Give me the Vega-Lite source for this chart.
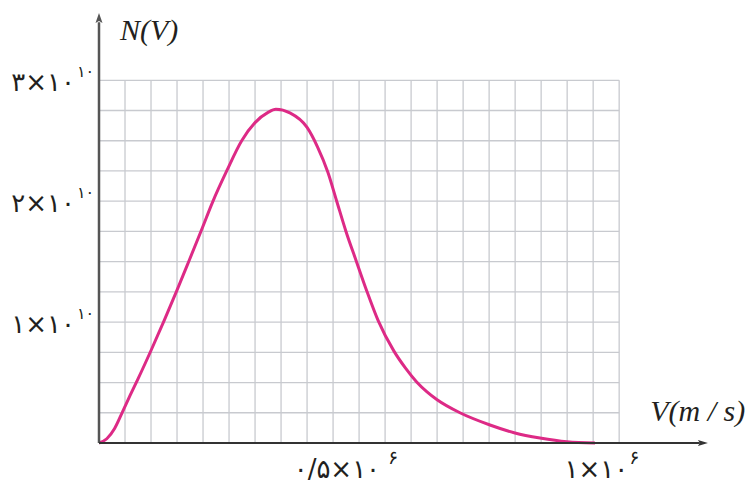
{
  "$schema": "https://vega.github.io/schema/vega-lite/v6.json",
  "width": 606,
  "height": 428,
  "autosize": {"type": "none"},
  "padding": {"left": 99, "top": 15, "right": 43, "bottom": 40},
  "background": "white",
  "config": {"view": {"stroke": null}},
  "datasets": {
    "curve": [
      {"V": 0, "N": 0},
      {"V": 15000, "N": 350000000},
      {"V": 30000, "N": 1200000000},
      {"V": 45000, "N": 2550000000},
      {"V": 60000, "N": 3950000000},
      {"V": 75000, "N": 5300000000},
      {"V": 100000, "N": 7650000000},
      {"V": 125000, "N": 10100000000},
      {"V": 150000, "N": 12650000000},
      {"V": 171000, "N": 14850000000},
      {"V": 195500, "N": 17450000000},
      {"V": 218600, "N": 19950000000},
      {"V": 245500, "N": 22500000000},
      {"V": 274300, "N": 25000000000},
      {"V": 300000, "N": 26500000000},
      {"V": 325000, "N": 27350000000},
      {"V": 340000, "N": 27600000000},
      {"V": 367000, "N": 27300000000},
      {"V": 400000, "N": 26100000000},
      {"V": 420000, "N": 24500000000},
      {"V": 440000, "N": 22400000000},
      {"V": 457000, "N": 20000000000},
      {"V": 474800, "N": 17500000000},
      {"V": 495000, "N": 15000000000},
      {"V": 514600, "N": 12600000000},
      {"V": 536900, "N": 10100000000},
      {"V": 567000, "N": 7600000000},
      {"V": 590000, "N": 6150000000},
      {"V": 610700, "N": 5050000000},
      {"V": 630000, "N": 4250000000},
      {"V": 650000, "N": 3580000000},
      {"V": 693900, "N": 2500000000},
      {"V": 751600, "N": 1490000000},
      {"V": 799700, "N": 830000000},
      {"V": 847700, "N": 410000000},
      {"V": 899600, "N": 100000000},
      {"V": 953600, "N": 0}
    ],
    "vgrid": [
      {"V": 50000}, {"V": 100000}, {"V": 150000}, {"V": 200000}, {"V": 250000},
      {"V": 300000}, {"V": 350000}, {"V": 400000}, {"V": 450000}, {"V": 500000},
      {"V": 550000}, {"V": 600000}, {"V": 650000}, {"V": 700000}, {"V": 750000},
      {"V": 800000}, {"V": 850000}, {"V": 900000}, {"V": 950000}, {"V": 1000000}
    ],
    "hgrid": [
      {"N": 2500000000}, {"N": 5000000000}, {"N": 7500000000}, {"N": 10000000000},
      {"N": 12500000000}, {"N": 15000000000}, {"N": 17500000000}, {"N": 20000000000},
      {"N": 22500000000}, {"N": 25000000000}, {"N": 27500000000}, {"N": 30000000000}
    ],
    "ylab": [
      {"N": 10000000000, "main": "۱×۱۰", "sup": "۱۰"},
      {"N": 20000000000, "main": "۲×۱۰", "sup": "۱۰"},
      {"N": 30000000000, "main": "۳×۱۰", "sup": "۱۰"}
    ]
  },
  "layer": [
    {
      "data": {"name": "vgrid"},
      "mark": {"type": "rule", "stroke": "#c8cacf", "strokeWidth": 1.3},
      "encoding": {
        "x": {"field": "V", "type": "quantitative", "scale": {"domain": [0, 1165000], "nice": false, "zero": false}, "axis": null},
        "y": {"datum": 0, "type": "quantitative", "scale": {"domain": [0, 35400000000], "nice": false}, "axis": null},
        "y2": {"datum": 30000000000}
      }
    },
    {
      "data": {"name": "hgrid"},
      "mark": {"type": "rule", "stroke": "#c8cacf", "strokeWidth": 1.3},
      "encoding": {
        "y": {"field": "N", "type": "quantitative"},
        "x": {"datum": 0, "type": "quantitative"},
        "x2": {"datum": 1000000}
      }
    },
    {
      "data": {"name": "curve"},
      "mark": {"type": "line", "stroke": "#dd2a86", "strokeWidth": 3, "interpolate": "monotone"},
      "encoding": {
        "x": {"field": "V", "type": "quantitative"},
        "y": {"field": "N", "type": "quantitative"}
      }
    },
    {
      "data": {"values": [{}]},
      "mark": {"type": "rule", "stroke": "#555555", "strokeWidth": 2.5},
      "encoding": {
        "x": {"datum": 0, "type": "quantitative"},
        "y": {"datum": 0, "type": "quantitative"},
        "y2": {"datum": 34800000000}
      }
    },
    {
      "data": {"values": [{}]},
      "mark": {"type": "rule", "stroke": "#333333", "strokeWidth": 1.8},
      "encoding": {
        "y": {"datum": 0, "type": "quantitative"},
        "x": {"datum": 0, "type": "quantitative"},
        "x2": {"datum": 1155000}
      }
    },
    {
      "data": {"values": [{}]},
      "mark": {"type": "point", "filled": true, "fill": "#555555", "strokeWidth": 0, "opacity": 1, "size": 100, "shape": "M0,-1L0.7,1L0,0.6L-0.7,1Z"},
      "encoding": {
        "x": {"datum": 0, "type": "quantitative"},
        "y": {"datum": 35150000000, "type": "quantitative"}
      }
    },
    {
      "data": {"values": [{}]},
      "mark": {"type": "point", "filled": true, "fill": "#333333", "strokeWidth": 0, "opacity": 1, "size": 100, "shape": "M1,0L-1,0.6L-0.6,0L-1,-0.6Z"},
      "encoding": {
        "x": {"datum": 1161000, "type": "quantitative"},
        "y": {"datum": 0, "type": "quantitative"}
      }
    },
    {
      "data": {"name": "ylab"},
      "mark": {"type": "text", "font": "DejaVu Sans", "fontSize": 26, "align": "right", "baseline": "middle", "dx": -24, "dy": 3, "fill": "#231f20"},
      "encoding": {
        "x": {"datum": 0, "type": "quantitative"},
        "y": {"field": "N", "type": "quantitative"},
        "text": {"field": "main"}
      }
    },
    {
      "data": {"name": "ylab"},
      "mark": {"type": "text", "font": "DejaVu Sans", "fontSize": 16, "align": "left", "baseline": "middle", "dx": -22, "dy": -8, "fill": "#231f20"},
      "encoding": {
        "x": {"datum": 0, "type": "quantitative"},
        "y": {"field": "N", "type": "quantitative"},
        "text": {"field": "sup"}
      }
    },
    {
      "data": {"values": [{"V": 500000, "main": "۰/۵×۱۰"}]},
      "mark": {"type": "text", "font": "DejaVu Sans", "fontSize": 26, "align": "right", "baseline": "bottom", "dx": 21, "dy": 40, "fill": "#231f20"},
      "encoding": {
        "x": {"field": "V", "type": "quantitative"},
        "y": {"datum": 0, "type": "quantitative"},
        "text": {"field": "main"}
      }
    },
    {
      "data": {"values": [{"V": 500000, "sup": "۶"}]},
      "mark": {"type": "text", "font": "DejaVu Sans", "fontSize": 19, "align": "left", "baseline": "middle", "dx": 29, "dy": 15, "fill": "#231f20"},
      "encoding": {
        "x": {"field": "V", "type": "quantitative"},
        "y": {"datum": 0, "type": "quantitative"},
        "text": {"field": "sup"}
      }
    },
    {
      "data": {"values": [{"V": 1000000, "main": "۱×۱۰"}]},
      "mark": {"type": "text", "font": "DejaVu Sans", "fontSize": 26, "align": "right", "baseline": "bottom", "dx": 9, "dy": 40, "fill": "#231f20"},
      "encoding": {
        "x": {"field": "V", "type": "quantitative"},
        "y": {"datum": 0, "type": "quantitative"},
        "text": {"field": "main"}
      }
    },
    {
      "data": {"values": [{"V": 1000000, "sup": "۶"}]},
      "mark": {"type": "text", "font": "DejaVu Sans", "fontSize": 19, "align": "left", "baseline": "middle", "dx": 10, "dy": 15, "fill": "#231f20"},
      "encoding": {
        "x": {"field": "V", "type": "quantitative"},
        "y": {"datum": 0, "type": "quantitative"},
        "text": {"field": "sup"}
      }
    },
    {
      "data": {"values": [{"label": "N(V)"}]},
      "mark": {"type": "text", "font": "Liberation Serif", "fontStyle": "italic", "fontSize": 30, "align": "left", "baseline": "alphabetic", "dx": 21, "dy": 25, "fill": "#231f20"},
      "encoding": {
        "x": {"datum": 0, "type": "quantitative"},
        "y": {"datum": 35400000000, "type": "quantitative"},
        "text": {"field": "label"}
      }
    },
    {
      "data": {"values": [{"label": "V(m / s)"}]},
      "mark": {"type": "text", "font": "Liberation Serif", "fontStyle": "italic", "fontSize": 30, "align": "left", "baseline": "alphabetic", "dx": 31, "dy": -22, "fill": "#231f20"},
      "encoding": {
        "x": {"datum": 1000000, "type": "quantitative"},
        "y": {"datum": 0, "type": "quantitative"},
        "text": {"field": "label"}
      }
    }
  ]
}
